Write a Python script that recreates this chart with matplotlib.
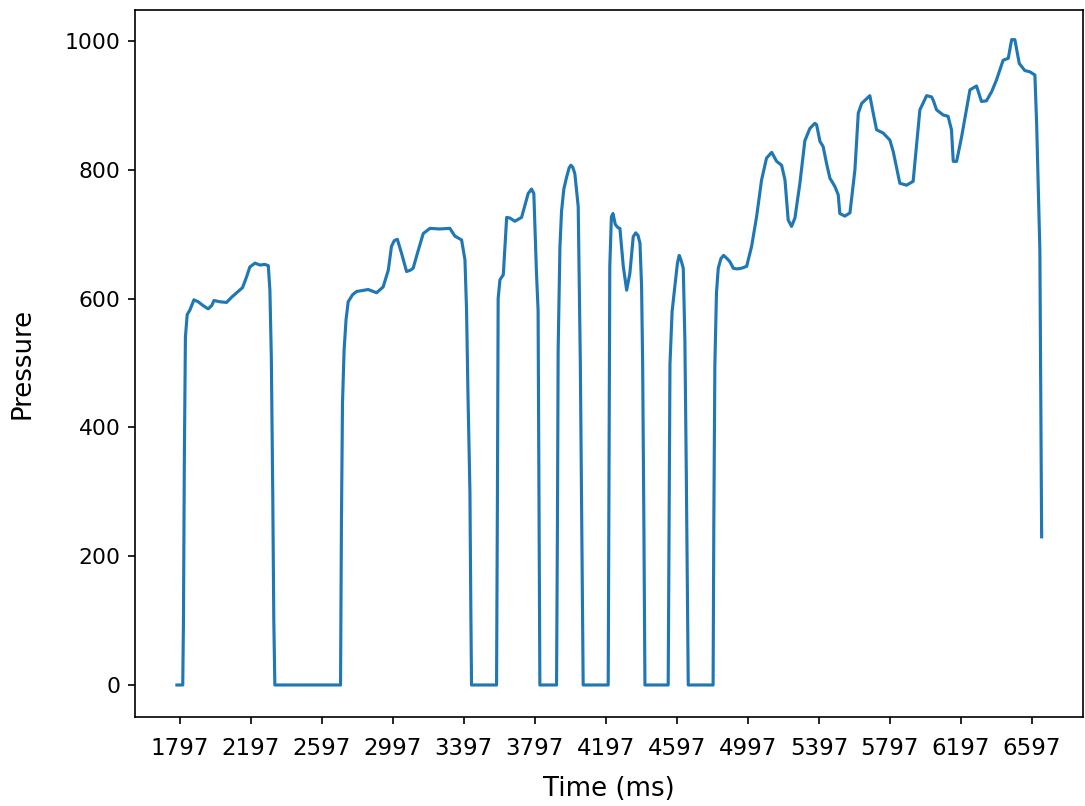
import matplotlib
matplotlib.use("Agg")
import matplotlib.pyplot as plt

time_ms = [
    1780, 1813, 1817, 1822, 1828, 1838, 1853, 1876, 1900, 1928, 1956, 1976, 1989, 2022, 2060, 2088,
    2125, 2150, 2173, 2191, 2220, 2248, 2276, 2295, 2304, 2312, 2320, 2326, 2332,
    2702, 2707, 2713, 2722, 2733, 2745, 2770, 2793, 2858, 2905, 2942, 2971, 2989, 3005, 3022, 3046,
    3074, 3095, 3111, 3140, 3168, 3206, 3260, 3318, 3346, 3384, 3403, 3412, 3420, 3431, 3436, 3440,
    3581, 3586, 3590, 3600, 3619, 3638, 3656, 3684, 3722, 3741, 3759, 3778, 3791, 3806, 3815, 3820, 3825,
    3919, 3924, 3928, 3938, 3947, 3960, 3976, 3990, 4000, 4010, 4022, 4041, 4053, 4061, 4069,
    4210, 4214, 4219, 4228, 4237, 4250, 4265, 4276, 4295, 4314, 4332, 4351, 4365, 4378, 4389, 4398,
    4404, 4411, 4417,
    4548, 4552, 4558, 4570, 4586, 4600, 4610, 4620, 4633, 4642, 4650, 4656, 4661,
    4801, 4805, 4811, 4820, 4830, 4845, 4860, 4880, 4896, 4915, 4935, 4960, 4990, 5018, 5046, 5074,
    5102, 5131, 5159, 5187, 5206, 5224, 5243, 5262, 5290, 5318, 5346, 5374, 5384, 5403, 5421, 5440,
    5459, 5487, 5506, 5515, 5543, 5572, 5600, 5619, 5638, 5684, 5703, 5722, 5759, 5797, 5816, 5853,
    5891, 5928, 5966, 6004, 6032, 6041, 6060, 6097, 6125, 6144, 6154, 6173, 6201, 6248, 6285, 6313,
    6341, 6370, 6397, 6435, 6464, 6483, 6501, 6526, 6557, 6586, 6614, 6624, 6642, 6652,
]
pressure = [
    0, 0, 100, 350, 540, 575, 582, 598, 595, 589, 584, 589, 597, 595, 594, 602,
    611, 617, 634, 649, 655, 652, 653, 651, 613, 510, 300, 100, 0,
    0, 250, 437, 520, 567, 595, 606, 611, 614, 609, 618, 644, 681, 690, 692, 670,
    642, 644, 647, 675, 701, 709, 708, 709, 697, 691, 660, 582, 450, 300, 120, 0,
    0, 300, 600, 629, 637, 726, 725, 720, 726, 745, 763, 770, 763, 639, 582, 300, 0,
    0, 250, 520, 680, 735, 770, 789, 803, 807, 804, 794, 743, 500, 250, 0,
    0, 300, 650, 727, 732, 715, 710, 709, 650, 613, 639, 696, 702, 698, 686, 620,
    500, 250, 0,
    0, 200, 498, 580, 620, 655, 667, 660, 647, 536, 330, 150, 0,
    0, 250, 498, 609, 647, 662, 667, 662, 657, 647, 646, 647, 650, 681, 727, 784,
    818, 827, 813, 807, 784, 722, 712, 725, 779, 845, 864, 872, 870, 844, 836, 810,
    787, 774, 761, 732, 728, 733, 800, 888, 903, 915, 888, 862, 857, 846, 828, 779,
    776, 782, 893, 915, 913, 908, 893, 885, 883, 862, 813, 813, 851, 924, 930, 906,
    907, 921, 939, 970, 973, 1002, 1002, 965, 954, 952, 947, 870, 675, 230,
]
tick_values = list(range(1797, 6598, 400))
tick_labels = [str(v) for v in tick_values]

fig = plt.figure(figsize=(1085 / 150, 806 / 150), dpi=150)
ax = fig.add_axes([135 / 1085, 1 - 717 / 806, (1083 - 135) / 1085, (717 - 10) / 806])
ax.plot(time_ms, pressure, color="#1f77b4", linewidth=1.5)
ax.set_xlim(1544, 6885)
ax.set_ylim(-49.7, 1048)
ax.set_xticks(tick_values)
ax.set_xticklabels(tick_labels)
ax.tick_params(axis="x", labelsize=11, pad=6)
ax.tick_params(axis="y", labelsize=10.5)
ax.set_xlabel("Time (ms)", fontsize=12.5, labelpad=8)
ax.set_ylabel("Pressure", fontsize=12.5, labelpad=14)
fig.savefig("out.png", dpi=150)
